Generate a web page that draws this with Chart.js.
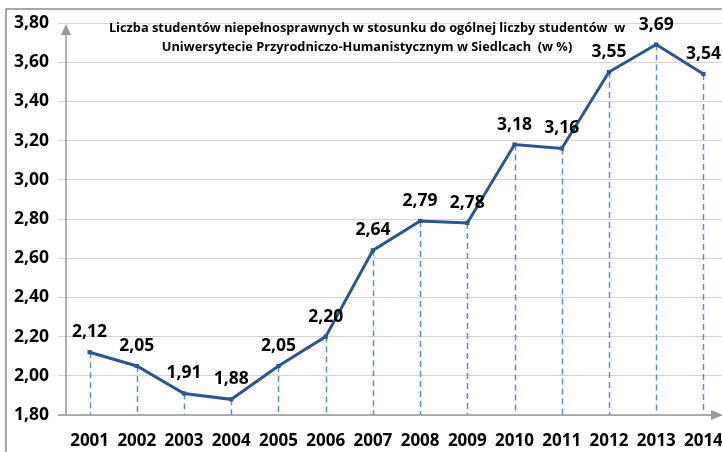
<!DOCTYPE html>
<html>
<head>
<meta charset="utf-8">
<script src="https://cdn.jsdelivr.net/npm/chart.js@4.4.1/dist/chart.umd.min.js"></script>
<style>
  html, body { margin: 0; padding: 0; background: #fff; overflow: hidden; }
  #wrap { position: absolute; left: 0; top: 0; width: 740px; height: 452px; }
</style>
</head>
<body>
<div id="wrap"><canvas id="chart" width="740" height="452"></canvas></div>
<script>
// dane z wykresu
const years = ['2001', '2002', '2003', '2004', '2005', '2006', '2007', '2008', '2009', '2010', '2011', '2012', '2013', '2014'];
const shares = [2.12, 2.05, 1.91, 1.88, 2.05, 2.20, 2.64, 2.79, 2.78, 3.18, 3.16, 3.55, 3.69, 3.54];
const titleLines = [
    'Liczba studentów niepełnosprawnych w stosunku do ogólnej liczby studentów  w',
    'Uniwersytecie Przyrodniczo-Humanistycznym w Siedlcach  (w %)'
];
const yMin = 1.8, yMax = 3.8, yStep = 0.2;

const fmt = v => Number(v).toFixed(2).replace('.', ',');
const FONT = '"Open Sans", Lato, sans-serif';

// ramka, osie ze strzałkami, linie pionowe, etykiety i tytuł
const decorations = {
    id: 'decorations',
    beforeDraw(chart) {
        const ctx = chart.ctx;
        ctx.save();
        ctx.strokeStyle = '#8a8a8a';
        ctx.lineWidth = 1.5;
        ctx.beginPath();
        ctx.moveTo(6, 452);
        ctx.lineTo(6, 9);
        ctx.lineTo(740, 9);
        ctx.stroke();
        ctx.restore();
    },
    beforeDatasetsDraw(chart) {
        const ctx = chart.ctx;
        const area = chart.chartArea;
        const pts = chart.getDatasetMeta(0).data;
        ctx.save();
        // pionowe linie przerywane
        ctx.strokeStyle = '#5b8fd2';
        ctx.lineWidth = 1.5;
        ctx.setLineDash([6, 4]);
        pts.forEach(p => {
            ctx.beginPath();
            ctx.moveTo(Math.round(p.x) + 0.5, p.y);
            ctx.lineTo(Math.round(p.x) + 0.5, area.bottom);
            ctx.stroke();
        });
        ctx.setLineDash([]);
        // osie
        ctx.strokeStyle = '#999';
        ctx.fillStyle = '#999';
        ctx.lineWidth = 1.5;
        const ax = area.left;
        ctx.beginPath();
        ctx.moveTo(ax, area.bottom);
        ctx.lineTo(ax, 32);
        ctx.moveTo(58, area.bottom);
        ctx.lineTo(714, area.bottom);
        ctx.stroke();
        ctx.beginPath();
        ctx.moveTo(ax, 24);
        ctx.lineTo(ax - 5, 35);
        ctx.lineTo(ax + 5, 35);
        ctx.closePath();
        ctx.fill();
        ctx.beginPath();
        ctx.moveTo(723, area.bottom);
        ctx.lineTo(711, area.bottom - 5);
        ctx.lineTo(711, area.bottom + 5);
        ctx.closePath();
        ctx.fill();
        ctx.restore();
    },
    afterDraw(chart) {
        const ctx = chart.ctx;
        const pts = chart.getDatasetMeta(0).data;
        ctx.save();
        ctx.fillStyle = '#000';
        ctx.textAlign = 'center';
        ctx.textBaseline = 'middle';
        ctx.font = 'bold 17.5px ' + FONT;
        pts.forEach((p, i) => {
            ctx.fillText(fmt(shares[i]), p.x, p.y - 20);
        });
        ctx.font = 'bold 12.8px ' + FONT;
        ctx.fillText(titleLines[0], 367, 28);
        ctx.fillText(titleLines[1], 367, 47);
        ctx.restore();
    }
};

new Chart(document.getElementById('chart'), {
    type: 'line',
    data: {
        labels: years,
        datasets: [{
            data: shares,
            borderColor: '#2c5592',
            backgroundColor: '#2c5592',
            borderWidth: 3,
            pointStyle: 'rect',
            pointRadius: 3,
            pointBorderWidth: 0,
            tension: 0,
            fill: false
        }]
    },
    options: {
        responsive: false,
        animation: false,
        layout: { padding: { left: 0, top: 23, right: 13, bottom: 0 } },
        plugins: { legend: { display: false }, title: { display: false }, tooltip: { enabled: false } },
        scales: {
            x: {
                offset: true,
                grid: { display: false },
                border: { display: false },
                ticks: {
                    color: '#000',
                    font: { family: FONT, size: 17, weight: 'bold' },
                    maxRotation: 0,
                    autoSkip: false,
                    padding: 8
                },
                afterFit(scale) { scale.height = 37; }
            },
            y: {
                min: yMin,
                max: yMax,
                grid: { color: '#d4d4d4', lineWidth: 1, tickLength: 8, drawTicks: true },
                border: { display: false },
                ticks: {
                    stepSize: yStep,
                    color: '#000',
                    font: { family: FONT, size: 17.5, weight: 'bold' },
                    padding: 9,
                    callback: v => fmt(v)
                },
                afterFit(scale) { scale.width = 66; }
            }
        }
    },
    plugins: [decorations]
});
</script>
</body>
</html>
